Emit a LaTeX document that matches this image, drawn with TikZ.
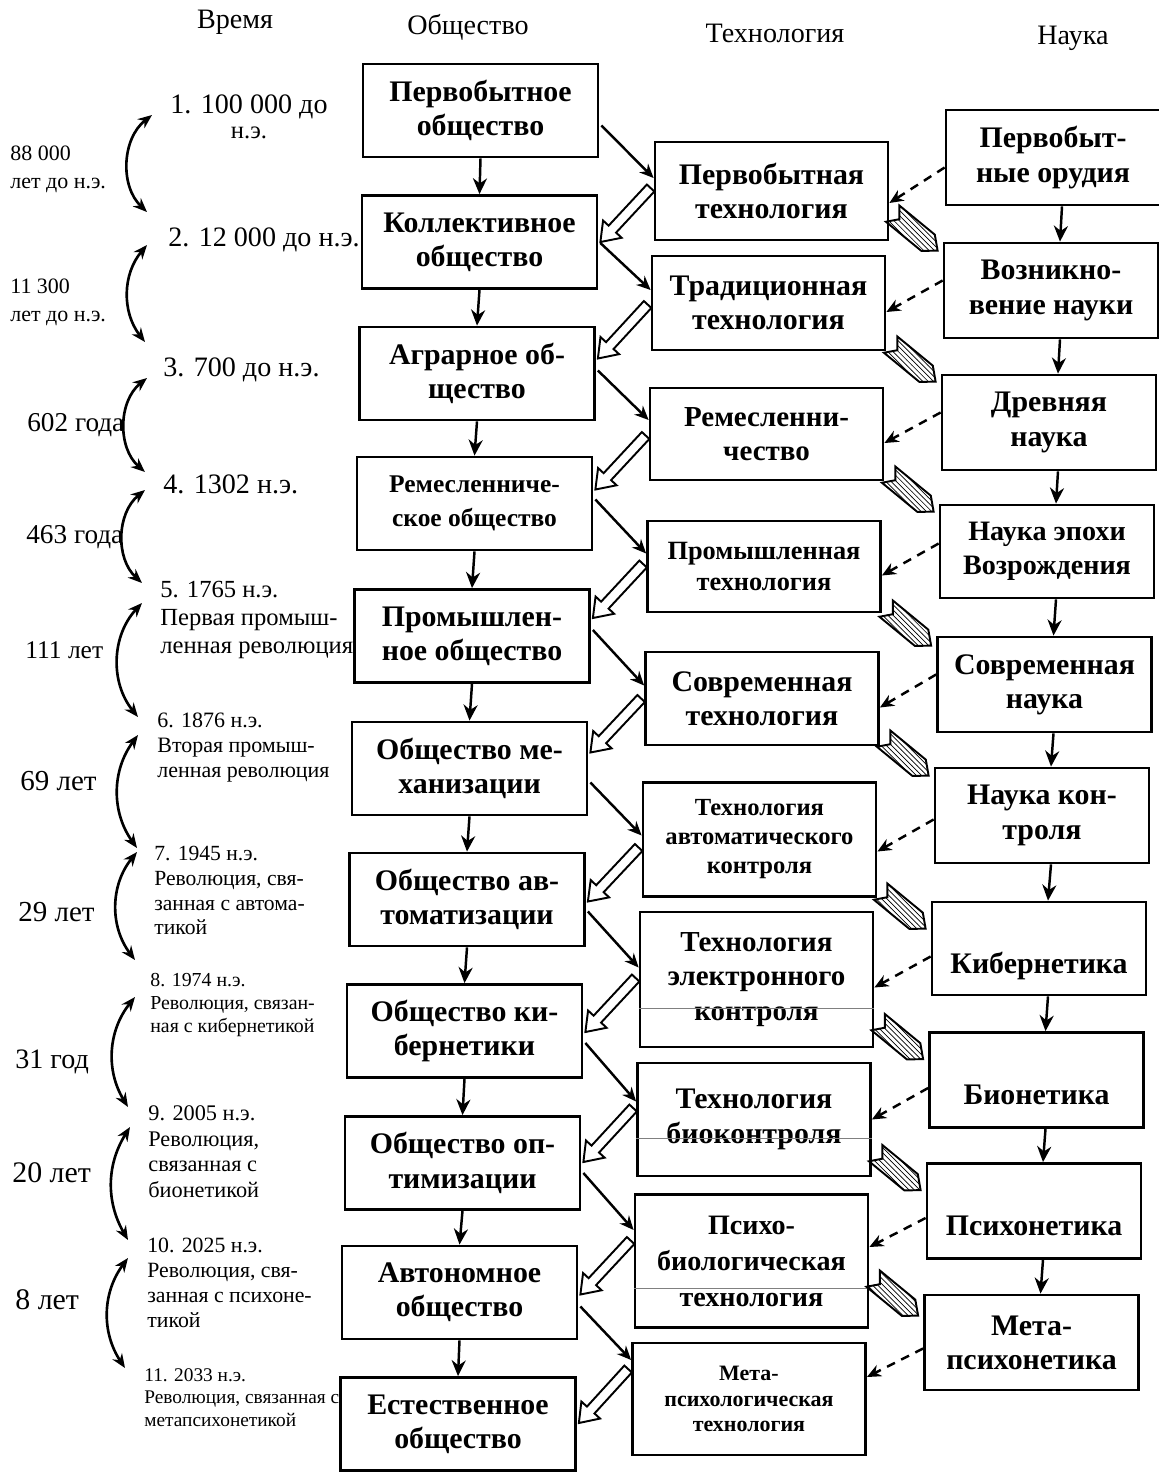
\documentclass[tikz,border=0pt]{standalone}
\usepackage{fontspec}
\setmainfont{Liberation Serif}
\usepackage{tikz}
\usetikzlibrary{arrows.meta,calc,patterns,positioning}

% hollow block arrow: #1 tail, #2 tip
\newcommand{\hollowarrow}[2]{%
  \coordinate (hb) at ($(#2)!10pt!(#1)$);
  \draw[line width=1.1pt, fill=white, line join=miter]
    ($(#1)!2.9pt!90:(#2)$) -- ($(hb)!2.9pt!90:(#2)$) -- ($(hb)!7.2pt!90:(#2)$)
    -- (#2) -- ($(hb)!7.2pt!-90:(#2)$) -- ($(hb)!2.9pt!-90:(#2)$)
    -- ($(#1)!2.9pt!-90:(#2)$) -- cycle;
}
% hatched arrow with notched tail: #1 tail, #2 tip
\newcommand{\hatcharrow}[2]{%
  \coordinate (hb) at ($(#2)!7pt!(#1)$);
  \coordinate (hn) at ($(#1)!5pt!(#2)$);
  \draw[line width=1.1pt, pattern=north west lines, line join=miter]
    ($(#1)!6pt!90:(#2)$) -- ($(hb)!6pt!90:(#2)$) -- (#2)
    -- ($(hb)!6pt!-90:(#2)$) -- ($(#1)!6pt!-90:(#2)$) -- (hn) -- cycle;
}

\begin{document}
\begin{tikzpicture}[x=0.02cm, y=-0.02cm,
    box/.style={draw, line width=1.6pt, align=center, inner sep=2pt,
      font=\bfseries\fontsize{17}{19.5}\selectfont},
    soc/.style={box, minimum width=4.7cm, minimum height=1.86cm},
    tec/.style={box, minimum width=4.66cm},
    sci/.style={box, minimum width=4.28cm, minimum height=1.9cm},
    low/.style={text height=28pt, text depth=0pt},
    vlink/.style={line width=1.4pt, -{Stealth[length=9pt,width=8pt]}},
    link/.style={line width=1.4pt, -{Stealth[length=8pt,width=7pt]}},
    dlink/.style={line width=1.4pt, dash pattern=on 5pt off 4pt, -{Stealth[length=8pt,width=7pt]}},
    tarrow/.style={line width=1.5pt, {Stealth[length=8pt,width=6.5pt]}-{Stealth[length=8pt,width=6.5pt]}},
    date/.style={anchor=west, align=left, inner sep=0pt},
    head/.style={font=\fontsize{16}{19}\selectfont},
    scan/.style={gray, line width=0.5pt}]
  \useasboundingbox (0,0) rectangle (1159,1472);

  % headings
  \node[head] (hTime) at (235,22) {Время};
  \node[head] (hSoc) at (468,27) {Общество};
  \node[head] (hTec) at (775,33) {Технология};
  \node[head] (hSci) at (1073,38) {Наука};

  % society
  \node[soc] (s1) at (480.5,110.5) {Первобытное\\общество};
  \node[soc] (s2) at (479.5,242) {Коллективное\\общество};
  \node[soc] (s3) at (477,373.5) {Аграрное об-\\щество};
  \node[soc, font=\bfseries\fontsize{14.5}{19}\selectfont] (s4) at (474.5,503.5) {Ремесленниче-\\ское общество};
  \node[soc] (s5) at (472,636) {Промышлен-\\ное общество};
  \node[soc] (s6) at (469.5,768.5) {Общество ме-\\ханизации};
  \node[soc] (s7) at (467,899.5) {Общество ав-\\томатизации};
  \node[soc] (s8) at (464.5,1031) {Общество ки-\\бернетики};
  \node[soc] (s9) at (462.5,1163) {Общество оп-\\тимизации};
  \node[soc] (s10) at (459.5,1292.5) {Автономное\\общество};
  \node[soc] (s11) at (458,1424) {Естественное\\общество};

  % technology
  \node[tec, minimum height=1.96cm] (t1) at (771.5,191) {Первобытная\\технология};
  \node[tec, minimum height=1.88cm] (t2) at (768.5,303) {Традиционная\\технология};
  \node[tec, minimum height=1.84cm, font=\bfseries\fontsize{16.5}{19.5}\selectfont] (t3) at (766.5,434) {Ремесленни-\\чество};
  \node[tec, minimum height=1.82cm, font=\bfseries\fontsize{15}{17.5}\selectfont] (t4) at (764,566.5) {Промышленная\\технология};
  \node[tec, minimum height=1.86cm] (t5) at (762,698.5) {Современная\\технология};
  \node[tec, minimum height=2.28cm, font=\bfseries\fontsize{14}{16.5}\selectfont] (t6) at (759.5,839.5) {Технология\\автоматического\\контроля};
  \node[tec, minimum height=2.7cm, font=\bfseries\fontsize{16.5}{19.5}\selectfont] (t7) at (756.5,979.5) {Технология\\электронного\\контроля};
  \node[tec, minimum height=2.26cm] (t8) at (754,1119.5) {Технология\\биоконтроля};
  \node[tec, minimum height=2.66cm, font=\bfseries\fontsize{16}{20.5}\selectfont] (t9) at (751.5,1261) {Психо-\\биологическая\\технология};
  \node[tec, minimum height=2.24cm, font=\bfseries\fontsize{12.5}{14.7}\selectfont] (t10) at (749,1399) {Мета-\\психологическая\\технология};
  \draw[scan] ($(t7.west)+(0,28.5)$) -- ($(t7.east)+(0,28.5)$);
  \draw[scan] ($(t8.west)+(0,18.5)$) -- ($(t8.east)+(0,18.5)$);
  \draw[scan] ($(t9.west)+(0,27)$) -- ($(t9.east)+(0,27)$);

  % science
  \node[sci] (c1) at (1053,157.5) {Первобыт-\\ные орудия};
  \node[sci] (c2) at (1051,290.5) {Возникно-\\вение науки};
  \node[sci] (c3) at (1049,422.5) {Древняя\\наука};
  \node[sci, minimum height=1.86cm, font=\bfseries\fontsize{16}{19.5}\selectfont] (c4) at (1047,551.5) {Наука эпохи\\Возрождения};
  \node[sci] (c5) at (1044.5,684.5) {Современная\\наука};
  \node[sci] (c6) at (1042,815.5) {Наука кон-\\троля};
  \node[sci, low, minimum height=1.86cm] (c7) at (1039,948.5) {Кибернетика};
  \node[sci, low] (c8) at (1036.5,1080) {Бионетика};
  \node[sci, low] (c9) at (1034,1211) {Психонетика};
  \node[sci] (c10) at (1031.5,1342.5) {Мета-\\психонетика};

  % time
  \node[align=center, inner sep=0pt, font=\fontsize{16}{19}\selectfont] (d1) at (249,117) {1. 100 000 до\\[-5pt]{\fontsize{14}{14}\selectfont н.э.}};
  \node[date, font=\fontsize{16}{19}\selectfont] (d2) at (168,240) {2. 12 000 до н.э.};
  \node[date, font=\fontsize{16}{19}\selectfont] (d3) at (163,370) {3. 700 до н.э.};
  \node[date, font=\fontsize{16}{19}\selectfont] (d4) at (163,484) {4. 1302 н.э.};
  \node[date, font=\fontsize{14}{16}\selectfont] (d5) at (160,620) {5. 1765 н.э.\\Первая промыш-\\ленная революция};
  \node[date, font=\fontsize{12.5}{14.5}\selectfont] (d6) at (157,747.5) {6. 1876 н.э.\\Вторая промыш-\\ленная революция};
  \node[date, font=\fontsize{12.3}{14.2}\selectfont] (d7) at (154,890.5) {7. 1945 н.э.\\Революция, свя-\\занная с автома-\\тикой};
  \node[date, font=\fontsize{11.3}{13}\selectfont] (d8) at (150,1005) {8. 1974 н.э.\\Революция, связан-\\ная с кибернетикой};
  \node[date, font=\fontsize{12.7}{14.5}\selectfont] (d9) at (148,1151.5) {9. 2005 н.э.\\Революция,\\связанная с\\бионетикой};
  \node[date, font=\fontsize{12.4}{14.2}\selectfont] (d10) at (147,1282.5) {10. 2025 н.э.\\Революция, свя-\\занная с психоне-\\тикой};
  \node[date, font=\fontsize{11}{12.8}\selectfont] (d11) at (144,1397.5) {11. 2033 н.э.\\Революция, связанная с\\метапсихонетикой};

  % intervals
  \node[date, font=\fontsize{12.5}{16}\selectfont] (g1) at (10,169) {88 000\\лет до н.э.};
  \node[date, font=\fontsize{12.5}{16}\selectfont] (g2) at (10,302) {11 300\\лет до н.э.};
  \node[date, font=\fontsize{15.5}{18}\selectfont] (g3) at (27,425) {602 года};
  \node[date, font=\fontsize{15.5}{18}\selectfont] (g4) at (26,537) {463 года};
  \node[date, font=\fontsize{14.5}{18}\selectfont] (g5) at (25,650) {111 лет};
  \node[date, font=\fontsize{16.5}{19}\selectfont] (g6) at (20,781) {69 лет};
  \node[date, font=\fontsize{16.5}{19}\selectfont] (g7) at (18,912) {29 лет};
  \node[date, font=\fontsize{16}{19}\selectfont] (g8) at (15,1062) {31 год};
  \node[date, font=\fontsize{17}{19}\selectfont] (g9) at (12,1173) {20 лет};
  \node[date, font=\fontsize{17}{19}\selectfont] (g10) at (15,1300) {8 лет};

  \foreach \i/\xa/\ya/\xb/\yb/\bnd in {1/152/115/147/212/49, 2/147/245/145/342/39,
      3/147/378/145/472/50, 4/145/490/142/583/49, 5/142/603/138/717/41,
      6/138/735/137/848/36, 7/137/852/135/960/38, 8/135/997/128/1107/35,
      9/130/1127/128/1240/31, 10/128/1258/125/1368/35}{
    \coordinate (ta\i) at (\xa,\ya);
    \coordinate (tb\i) at (\xb,\yb);
    \draw[tarrow] (ta\i) to[bend right=\bnd] (tb\i);
  }

  % chains
  \foreach \i [count=\j from 2] in {1,...,10}
    \draw[vlink] (s\i.south) -- (s\j.north);
  \foreach \i [count=\j from 2] in {1,...,9}
    \draw[vlink] ($(c\i.south)+(9,0)$) -- ($(c\j.north)+(9,0)$);

  % society -> technology
  \foreach \soc/\tec/\da/\db in {s1/t1/15/-13, s2/t2/1/-13, s3/t3/-3/-14, s4/t4/-4/-13,
      s5/t5/-6/-13, s6/t6/14/-4, s7/t7/12/-12, s8/t8/12/-18, s9/t9/10/-31, s10/t10/14/-39}
    \draw[link] ($(\soc.east)+(2,\da)$) -- ($(\tec.west)+(0,\db)$);

  % science -> technology
  \foreach \sci/\tec/\da/\db in {c1/t1/10/12, c2/t2/-10/9, c3/t3/-10/9, c4/t4/-8/9,
      c5/t5/-10/9, c6/t6/4/12, c7/t7/8/8, c8/t8/8/0, c9/t9/7/-14, c10/t10/6/-22}
    \draw[dlink] ($(\sci.west)+(0,\da)$) -- ($(\tec.east)+(0,\db)$);

  % technology -> next society
  \foreach \tec/\soc/\dy in {t1/s2/0, t2/s3/-15, t3/s4/-14, t4/s5/-18, t5/s6/-16,
      t6/s7/2, t7/s8/1, t8/s9/-1, t9/s10/2, t10/s11/-1}{
    \coordinate (hz) at ($(\soc.east)+(2,\dy)$);
    \coordinate (hy) at ($(hz)+(0,-54)$);
    \coordinate (ha) at ($(\tec.west |- hy)+(-3,0)$);
    \hollowarrow{ha}{hz}
  }

  % technology -> next science
  \foreach \sci/\dy in {c2/9, c3/8, c4/8, c5/10, c6/9, c7/28, c8/28, c9/28, c10/22}{
    \coordinate (hz) at ($(\sci.north west)+(-5,\dy)$);
    \coordinate (ha) at ($(hz)+(-45,-37)$);
    \hatcharrow{ha}{hz}
  }
\end{tikzpicture}
\end{document}
